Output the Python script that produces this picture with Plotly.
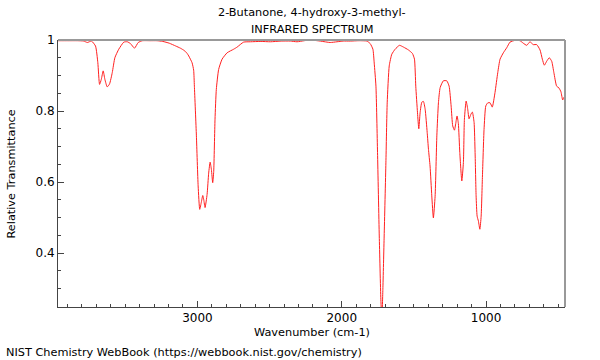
import plotly.graph_objects as go

wavenumber = [
    3966, 3900, 3830, 3787, 3763, 3734, 3706, 3690, 3678, 3666,
    3653, 3641, 3625, 3609, 3590, 3572, 3545, 3510, 3486, 3464,
    3436, 3410, 3380, 3330, 3280, 3240, 3195, 3150, 3118, 3090,
    3071, 3060, 3037, 3026, 3021, 3007, 2995, 2984, 2972, 2963,
    2956, 2947, 2933, 2922, 2912, 2903, 2894, 2887, 2878, 2869,
    2853, 2829, 2794, 2749, 2725, 2680, 2633, 2560, 2495, 2420,
    2356, 2310, 2260, 2218, 2149, 2080, 2033, 1990, 1941, 1880,
    1826, 1803, 1784, 1775, 1763, 1752, 1740, 1729, 1722, 1715,
    1706, 1694, 1685, 1671, 1653, 1630, 1600, 1572, 1538, 1510,
    1496, 1487, 1475, 1466, 1457, 1445, 1434, 1422, 1408, 1399,
    1388, 1376, 1365, 1353, 1341, 1330, 1318, 1296, 1272, 1256,
    1242, 1231, 1219, 1210, 1201, 1192, 1182, 1168, 1157, 1150,
    1138, 1127, 1118, 1106, 1095, 1083, 1076, 1069, 1062, 1053,
    1043, 1034, 1025, 1014, 1002, 988, 972, 957, 938, 919,
    903, 880, 857, 834, 799, 765, 742, 718, 696, 673,
    649, 626, 610, 596, 580, 562, 545, 530, 511, 495,
    481, 469, 460, 453,
]

transmittance = [
    0.998, 0.998, 0.998, 0.997, 0.993, 0.997, 0.983, 0.936, 0.875, 0.889,
    0.913, 0.889, 0.868, 0.876, 0.908, 0.950, 0.974, 0.994, 0.995, 0.990,
    0.977, 0.993, 0.998, 0.998, 0.998, 0.996, 0.991, 0.983, 0.977, 0.970,
    0.962, 0.955, 0.936, 0.915, 0.870, 0.730, 0.589, 0.523, 0.545, 0.562,
    0.550, 0.528, 0.565, 0.625, 0.656, 0.635, 0.598, 0.630, 0.777, 0.861,
    0.917, 0.946, 0.964, 0.974, 0.980, 0.994, 0.995, 0.996, 0.995, 0.997,
    0.997, 0.995, 0.998, 1.000, 0.997, 0.993, 0.995, 0.997, 0.997, 0.998,
    0.997, 0.990, 0.974, 0.935, 0.870, 0.683, 0.448, 0.270, 0.210, 0.298,
    0.448, 0.654, 0.823, 0.927, 0.960, 0.974, 0.985, 0.980, 0.972, 0.962,
    0.946, 0.870, 0.795, 0.750, 0.795, 0.825, 0.827, 0.805, 0.740, 0.692,
    0.645, 0.561, 0.499, 0.560, 0.730, 0.823, 0.866, 0.885, 0.885, 0.870,
    0.814, 0.758, 0.746, 0.765, 0.786, 0.765, 0.683, 0.603, 0.655, 0.777,
    0.828, 0.805, 0.778, 0.790, 0.797, 0.768, 0.683, 0.561, 0.504, 0.490,
    0.467, 0.504, 0.617, 0.748, 0.814, 0.823, 0.823, 0.811, 0.852, 0.908,
    0.946, 0.964, 0.978, 0.994, 0.999, 0.998, 0.991, 0.985, 0.995, 0.987,
    0.987, 0.972, 0.946, 0.929, 0.940, 0.950, 0.940, 0.908, 0.870, 0.865,
    0.854, 0.831, 0.839, 0.838,
]

assert len(wavenumber) == len(transmittance)

title_lines = ["2-Butanone, 4-hydroxy-3-methyl-", "INFRARED SPECTRUM"]
x_title = "Wavenumber (cm-1)"
y_title = "Relative Transmittance"
footer = "NIST Chemistry WebBook (https://webbook.nist.gov/chemistry)"

FONT = "DejaVu Sans"
TXT = 11.3

fig = go.Figure()
fig.add_trace(go.Scatter(
    x=wavenumber, y=transmittance, mode="lines",
    line=dict(color="#ff2020", width=1, shape="spline", smoothing=0.5),
    hoverinfo="skip", showlegend=False,
))

L, R, T, B = 57.5, 35, 40, 53
pw = 600 - L - R
ph = 360 - T - B

def px_to_paper_x(px):
    return (px - L) / pw

def py_to_paper_y(py):
    return (360 - B - py) / ph

annotations = [
    dict(text=title_lines[0], x=0.5, y=py_to_paper_y(13)),
    dict(text=title_lines[1], x=0.5, y=py_to_paper_y(30)),
    dict(text=x_title, x=0.5, y=py_to_paper_y(332)),
]
anns = []
for a in annotations:
    anns.append(dict(xref="paper", yref="paper", showarrow=False,
                     xanchor="center", yanchor="middle",
                     font=dict(family=FONT, size=TXT, color="black"), **a))
anns.append(dict(text=y_title, xref="paper", yref="paper", showarrow=False,
                 x=px_to_paper_x(10), y=py_to_paper_y(174), textangle=-90,
                 xanchor="center", yanchor="middle",
                 font=dict(family=FONT, size=TXT, color="black")))
anns.append(dict(text=footer, xref="paper", yref="paper", showarrow=False,
                 x=px_to_paper_x(3), y=py_to_paper_y(352),
                 xanchor="left", yanchor="middle",
                 font=dict(family=FONT, size=TXT, color="black")))

fig.update_layout(
    width=600, height=360,
    margin=dict(l=L, r=R, t=T, b=B, pad=0),
    paper_bgcolor="white", plot_bgcolor="white",
    font=dict(family=FONT, size=12, color="black"),
    annotations=anns,
    shapes=[
        dict(type="line", xref="paper", yref="paper", x0=0, x1=1, y0=1, y1=1,
             line=dict(color="#999999", width=2)),
        dict(type="line", xref="paper", yref="paper", x0=1, x1=1, y0=0, y1=1,
             line=dict(color="#999999", width=2)),
    ],
    xaxis=dict(
        range=[3966, 453], showgrid=False, zeroline=False,
        showline=True, linecolor="#444444", linewidth=1,
        ticks="inside", ticklen=6, tickcolor="#444444",
        tick0=0, dtick=1000,
        minor=dict(ticks="inside", ticklen=3, dtick=100, tick0=0, tickcolor="#444444"),
        tickfont=dict(family=FONT, size=12, color="black"),
    ),
    yaxis=dict(
        range=[0.248, 1.0], showgrid=False, zeroline=False,
        showline=True, linecolor="#444444", linewidth=1,
        ticks="inside", ticklen=6, tickcolor="#444444",
        tick0=0, dtick=0.2,
        minor=dict(ticks="inside", ticklen=3, dtick=0.05, tick0=0, tickcolor="#444444"),
        tickfont=dict(family=FONT, size=12, color="black"),
    ),
)

fig.write_html(
    "out.html",
    config={"displayModeBar": False, "staticPlot": True},
    post_script="document.body.style.margin='0';document.body.style.overflow='hidden';",
)
